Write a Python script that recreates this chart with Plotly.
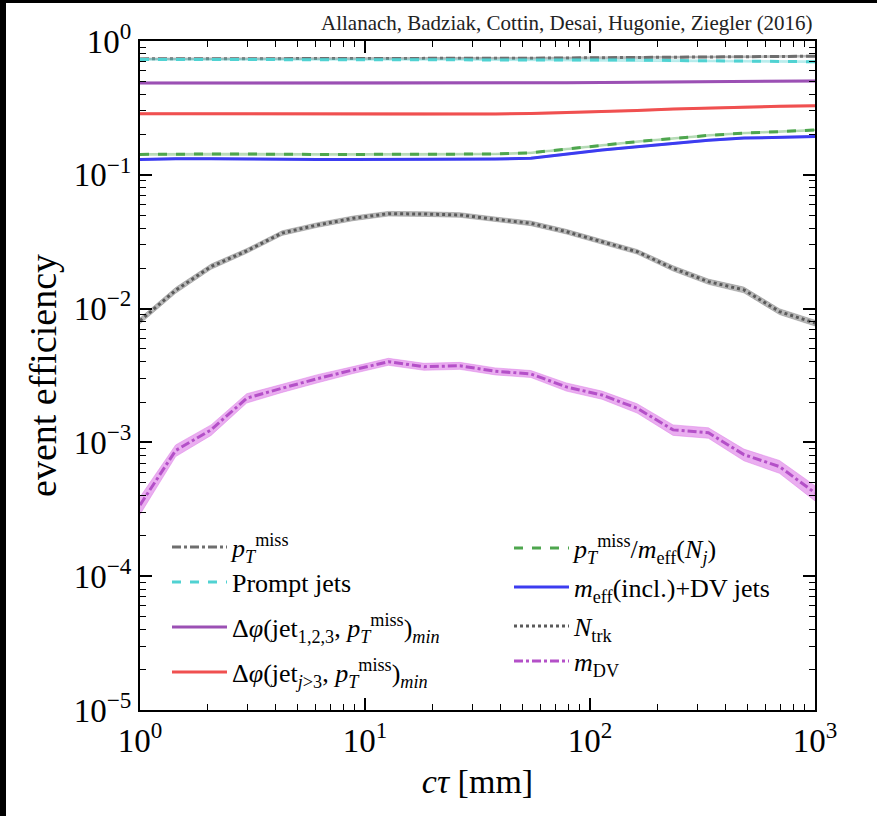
import plotly.graph_objects as go

# ---------------- data ----------------
ctau = [1.0, 1.44, 2.07, 2.98, 4.28, 6.16, 8.86, 12.7, 18.3, 26.4,
        37.9, 54.6, 78.5, 113, 162, 234, 336, 483, 695, 1000]

ptmiss = [0.735, 0.735, 0.736, 0.737, 0.737, 0.738, 0.738, 0.739, 0.740, 0.741,
          0.742, 0.744, 0.747, 0.750, 0.754, 0.758, 0.762, 0.765, 0.768, 0.770]
prompt_jets = [0.728, 0.728, 0.728, 0.728, 0.728, 0.728, 0.728, 0.728, 0.728, 0.728,
               0.727, 0.727, 0.726, 0.724, 0.720, 0.715, 0.710, 0.706, 0.703, 0.700]
dphi_123 = [0.486, 0.486, 0.485, 0.485, 0.484, 0.484, 0.483, 0.483, 0.482, 0.482,
            0.483, 0.485, 0.487, 0.489, 0.492, 0.495, 0.498, 0.500, 0.502, 0.503]
dphi_j3 = [0.286, 0.286, 0.285, 0.285, 0.284, 0.284, 0.284, 0.283, 0.283, 0.284,
           0.285, 0.287, 0.291, 0.296, 0.303, 0.310, 0.316, 0.321, 0.325, 0.328]
pt_meff = [0.142, 0.143, 0.143, 0.143, 0.142, 0.142, 0.142, 0.142, 0.142, 0.142,
           0.143, 0.146, 0.155, 0.166, 0.177, 0.188, 0.197, 0.205, 0.211, 0.216]
meff_dv = [0.130, 0.132, 0.132, 0.131, 0.131, 0.130, 0.130, 0.130, 0.130, 0.130,
           0.131, 0.133, 0.143, 0.153, 0.162, 0.172, 0.181, 0.188, 0.191, 0.193]
ntrk = [0.0081, 0.0137, 0.0206, 0.0270, 0.0367, 0.0422, 0.0473, 0.0512, 0.0509, 0.0501,
        0.0465, 0.0434, 0.0376, 0.0316, 0.0266, 0.0200, 0.0159, 0.0138, 0.0095, 0.0078]
mdv = [0.00034, 0.00087, 0.00124, 0.00214, 0.00254, 0.00300, 0.00348, 0.00401, 0.00368, 0.00374,
       0.00340, 0.00325, 0.00260, 0.00226, 0.00180, 0.00124, 0.00118, 0.00081, 0.00066, 0.00042]

# relative uncertainties (band half-widths)
err_small = [0.015] * 20
ntrk_err = [0.05, 0.05, 0.045, 0.04, 0.04, 0.04, 0.04, 0.04, 0.04, 0.04,
            0.04, 0.04, 0.04, 0.04, 0.04, 0.045, 0.045, 0.05, 0.05, 0.05]
mdv_err = [0.15, 0.10, 0.09, 0.08, 0.07, 0.07, 0.06, 0.06, 0.06, 0.06,
           0.06, 0.06, 0.07, 0.07, 0.08, 0.09, 0.09, 0.10, 0.11, 0.13]

x_tickvals = [1, 10, 100, 1000]
x_ticktext = ["10<sup>0</sup>", "10<sup>1</sup>", "10<sup>2</sup>", "10<sup>3</sup>"]
y_tickvals = [1e-5, 1e-4, 1e-3, 1e-2, 1e-1, 1]
y_ticktext = ["10<sup>−5</sup>", "10<sup>−4</sup>", "10<sup>−3</sup>",
              "10<sup>−2</sup>", "10<sup>−1</sup>", "10<sup>0</sup>"]

PT = "<i>p</i><sub><i>T</i></sub><sup>miss</sup>"
series = [
    (PT, ptmiss, err_small, "#6e6e6e", "dashdot", "rgba(90,90,90,0.35)"),
    ("Prompt jets", prompt_jets, err_small, "#50d2d2", "dash", "rgba(80,210,210,0.35)"),
    ("Δ<i>φ</i>(jet<sub>1,2,3</sub>, " + PT + ")<sub><i>min</i></sub>",
     dphi_123, err_small, "#9b50b4", "solid", "rgba(155,80,180,0.35)"),
    ("Δ<i>φ</i>(jet<sub><i>j</i>>3</sub>, " + PT + ")<sub><i>min</i></sub>",
     dphi_j3, err_small, "#f05050", "solid", "rgba(240,80,80,0.35)"),
    (PT + "/<i>m</i><sub>eff</sub>(<i>N</i><sub><i>j</i></sub>)",
     pt_meff, err_small, "#4ea64e", "dash", "rgba(78,166,78,0.35)"),
    ("<i>m</i><sub>eff</sub>(incl.)+DV jets", meff_dv, err_small,
     "#3c3cf0", "solid", "rgba(60,60,240,0.35)"),
    ("<i>N</i><sub>trk</sub>", ntrk, ntrk_err, "#5a5a5a", "dot", "rgba(100,100,100,0.45)"),
    ("<i>m</i><sub>DV</sub>", mdv, mdv_err, "#b450c8", "dashdot", "rgba(220,120,230,0.6)"),
]

# legend entry placement (pixel centres in the 877x816 picture)
leg_px = [(167, 547), (167, 582), (167, 627), (167, 672),
          (509, 548), (509, 587), (509, 626), (509, 661)]

PL, PR, PT_, PB = 140, 815, 41, 710


def px2paper(px, py):
    return (px - PL) / (PR - PL), (PB - py) / (PB - PT_)


fig = go.Figure()
serif = "Liberation Serif"
legend_layout = {}

for k, (name, vals, err, col, dash, band) in enumerate(series):
    lo = [v * (1 - e) for v, e in zip(vals, err)]
    hi = [v * (1 + e) for v, e in zip(vals, err)]
    fig.add_trace(go.Scatter(
        x=ctau + ctau[::-1], y=hi + lo[::-1], fill="toself", fillcolor=band,
        line=dict(width=0.8, color=band), mode="lines", showlegend=False,
        hoverinfo="skip"))
    lname = "legend" if k == 0 else f"legend{k + 1}"
    fig.add_trace(go.Scatter(
        x=ctau, y=vals, mode="lines", name=name, legend=lname,
        line=dict(color=col, width=3, dash=dash)))
    lx, ly = px2paper(*leg_px[k])
    legend_layout[lname] = dict(
        x=lx, y=ly, xanchor="left", yanchor="middle",
        bgcolor="rgba(0,0,0,0)", font=dict(family=serif, size=26, color="black"),
        itemwidth=55)

axis_common = dict(
    type="log", showline=True, linecolor="black", linewidth=2, mirror="ticks",
    ticks="inside", ticklen=12, tickwidth=1.6, tickcolor="black",
    showgrid=False, zeroline=False,
    tickfont=dict(family=serif, size=33, color="black"),
    minor=dict(ticks="inside", ticklen=6, tickwidth=1.2, tickcolor="black",
               showgrid=False, dtick="D1"),
)

fig.update_layout(
    width=877, height=816,
    margin=dict(l=PL, r=877 - PR, t=PT_, b=816 - PB),
    paper_bgcolor="white", plot_bgcolor="white",
    font=dict(family=serif, color="black"),
    xaxis=dict(axis_common, range=[0, 3], tickvals=x_tickvals, ticktext=x_ticktext,
               title=dict(text="<i>cτ</i> [mm]", font=dict(family=serif, size=34),
                          standoff=12)),
    yaxis=dict(axis_common, range=[-5, 0], tickvals=y_tickvals, ticktext=y_ticktext,
               title=dict(text="event efficiency", font=dict(family=serif, size=38),
                          standoff=6)),
    showlegend=True,
    **legend_layout,
)

fig.add_annotation(
    text="Allanach, Badziak, Cottin, Desai, Hugonie, Ziegler (2016)",
    xref="paper", yref="paper", x=1.0, y=1.0, xanchor="right", yanchor="bottom",
    yshift=4, showarrow=False, font=dict(family=serif, size=21, color="#222"))

# black image edges (left and top strips of the reference picture)
fig.add_shape(type="rect", xref="paper", yref="paper",
              x0=px2paper(0, 0)[0], x1=px2paper(6, 0)[0],
              y0=px2paper(0, 816)[1], y1=px2paper(0, 0)[1],
              fillcolor="black", line=dict(width=0), layer="above")
fig.add_shape(type="rect", xref="paper", yref="paper",
              x0=px2paper(0, 0)[0], x1=px2paper(877, 0)[0],
              y0=px2paper(0, 3)[1], y1=px2paper(0, 0)[1],
              fillcolor="black", line=dict(width=0), layer="above")

fig.write_html("out.html")
